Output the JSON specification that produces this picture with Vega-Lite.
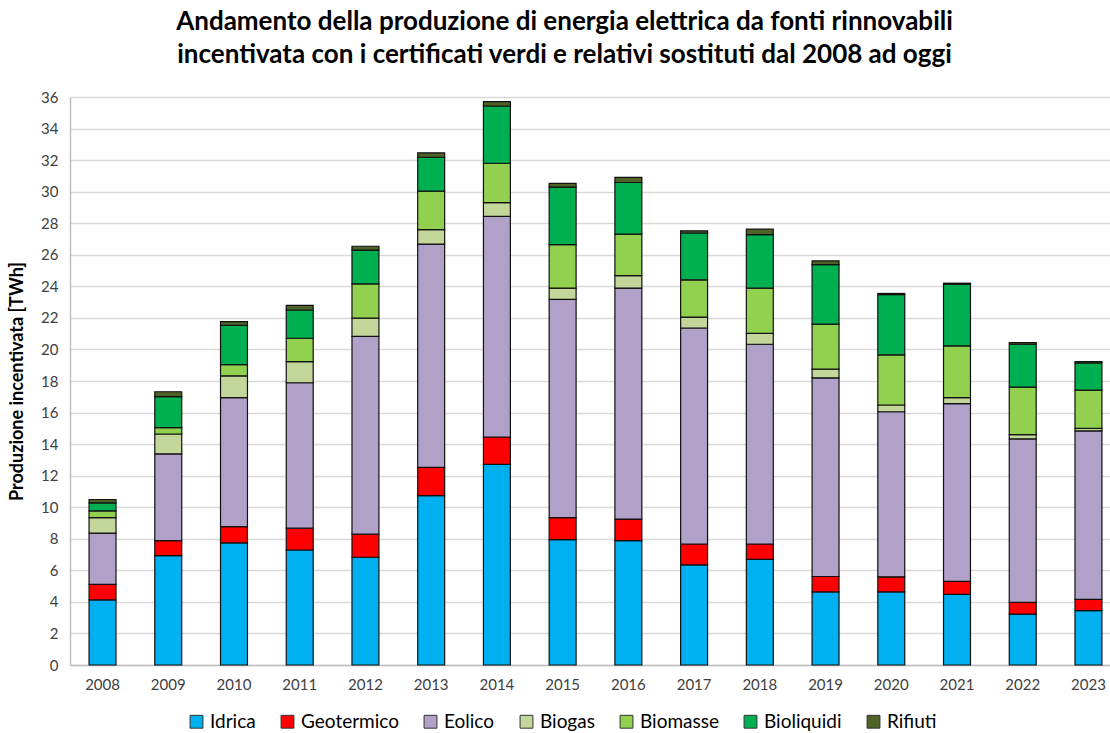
{
  "$schema": "https://vega.github.io/schema/vega-lite/v6.json",
  "width": 1051,
  "height": 568,
  "autosize": {"type": "none"},
  "padding": {"left": 70, "top": 97, "right": 0, "bottom": 68},
  "background": "white",
  "title": {
    "text": ["Andamento della produzione di energia elettrica da fonti rinnovabili", "incentivata con i certificati verdi e relativi sostituti dal 2008 ad oggi"],
    "font": "Lato",
    "fontSize": 26,
    "fontWeight": "bold",
    "color": "#000000",
    "anchor": "middle",
    "dx": -31,
    "offset": 22,
    "lineHeight": 33
  },
  "data": {
    "values": [
      {"year": "2008", "source": "Idrica", "ord": 1, "value": 4.13},
      {"year": "2008", "source": "Geotermico", "ord": 2, "value": 0.98},
      {"year": "2008", "source": "Eolico", "ord": 3, "value": 3.25},
      {"year": "2008", "source": "Biogas", "ord": 4, "value": 0.98},
      {"year": "2008", "source": "Biomasse", "ord": 5, "value": 0.43},
      {"year": "2008", "source": "Bioliquidi", "ord": 6, "value": 0.5},
      {"year": "2008", "source": "Rifiuti", "ord": 7, "value": 0.22},
      {"year": "2009", "source": "Idrica", "ord": 1, "value": 6.93},
      {"year": "2009", "source": "Geotermico", "ord": 2, "value": 0.95},
      {"year": "2009", "source": "Eolico", "ord": 3, "value": 5.5},
      {"year": "2009", "source": "Biogas", "ord": 4, "value": 1.26},
      {"year": "2009", "source": "Biomasse", "ord": 5, "value": 0.41},
      {"year": "2009", "source": "Bioliquidi", "ord": 6, "value": 1.96},
      {"year": "2009", "source": "Rifiuti", "ord": 7, "value": 0.31},
      {"year": "2010", "source": "Idrica", "ord": 1, "value": 7.74},
      {"year": "2010", "source": "Geotermico", "ord": 2, "value": 1.03},
      {"year": "2010", "source": "Eolico", "ord": 3, "value": 8.17},
      {"year": "2010", "source": "Biogas", "ord": 4, "value": 1.38},
      {"year": "2010", "source": "Biomasse", "ord": 5, "value": 0.72},
      {"year": "2010", "source": "Bioliquidi", "ord": 6, "value": 2.48},
      {"year": "2010", "source": "Rifiuti", "ord": 7, "value": 0.24},
      {"year": "2011", "source": "Idrica", "ord": 1, "value": 7.29},
      {"year": "2011", "source": "Geotermico", "ord": 2, "value": 1.38},
      {"year": "2011", "source": "Eolico", "ord": 3, "value": 9.22},
      {"year": "2011", "source": "Biogas", "ord": 4, "value": 1.34},
      {"year": "2011", "source": "Biomasse", "ord": 5, "value": 1.48},
      {"year": "2011", "source": "Bioliquidi", "ord": 6, "value": 1.79},
      {"year": "2011", "source": "Rifiuti", "ord": 7, "value": 0.29},
      {"year": "2012", "source": "Idrica", "ord": 1, "value": 6.83},
      {"year": "2012", "source": "Geotermico", "ord": 2, "value": 1.46},
      {"year": "2012", "source": "Eolico", "ord": 3, "value": 12.54},
      {"year": "2012", "source": "Biogas", "ord": 4, "value": 1.15},
      {"year": "2012", "source": "Biomasse", "ord": 5, "value": 2.17},
      {"year": "2012", "source": "Bioliquidi", "ord": 6, "value": 2.15},
      {"year": "2012", "source": "Rifiuti", "ord": 7, "value": 0.24},
      {"year": "2013", "source": "Idrica", "ord": 1, "value": 10.73},
      {"year": "2013", "source": "Geotermico", "ord": 2, "value": 1.79},
      {"year": "2013", "source": "Eolico", "ord": 3, "value": 14.16},
      {"year": "2013", "source": "Biogas", "ord": 4, "value": 0.91},
      {"year": "2013", "source": "Biomasse", "ord": 5, "value": 2.44},
      {"year": "2013", "source": "Bioliquidi", "ord": 6, "value": 2.15},
      {"year": "2013", "source": "Rifiuti", "ord": 7, "value": 0.28},
      {"year": "2014", "source": "Idrica", "ord": 1, "value": 12.71},
      {"year": "2014", "source": "Geotermico", "ord": 2, "value": 1.74},
      {"year": "2014", "source": "Eolico", "ord": 3, "value": 13.98},
      {"year": "2014", "source": "Biogas", "ord": 4, "value": 0.88},
      {"year": "2014", "source": "Biomasse", "ord": 5, "value": 2.49},
      {"year": "2014", "source": "Bioliquidi", "ord": 6, "value": 3.63},
      {"year": "2014", "source": "Rifiuti", "ord": 7, "value": 0.28},
      {"year": "2015", "source": "Idrica", "ord": 1, "value": 7.95},
      {"year": "2015", "source": "Geotermico", "ord": 2, "value": 1.39},
      {"year": "2015", "source": "Eolico", "ord": 3, "value": 13.83},
      {"year": "2015", "source": "Biogas", "ord": 4, "value": 0.72},
      {"year": "2015", "source": "Biomasse", "ord": 5, "value": 2.75},
      {"year": "2015", "source": "Bioliquidi", "ord": 6, "value": 3.65},
      {"year": "2015", "source": "Rifiuti", "ord": 7, "value": 0.24},
      {"year": "2016", "source": "Idrica", "ord": 1, "value": 7.88},
      {"year": "2016", "source": "Geotermico", "ord": 2, "value": 1.37},
      {"year": "2016", "source": "Eolico", "ord": 3, "value": 14.64},
      {"year": "2016", "source": "Biogas", "ord": 4, "value": 0.79},
      {"year": "2016", "source": "Biomasse", "ord": 5, "value": 2.63},
      {"year": "2016", "source": "Bioliquidi", "ord": 6, "value": 3.27},
      {"year": "2016", "source": "Rifiuti", "ord": 7, "value": 0.33},
      {"year": "2017", "source": "Idrica", "ord": 1, "value": 6.35},
      {"year": "2017", "source": "Geotermico", "ord": 2, "value": 1.32},
      {"year": "2017", "source": "Eolico", "ord": 3, "value": 13.69},
      {"year": "2017", "source": "Biogas", "ord": 4, "value": 0.69},
      {"year": "2017", "source": "Biomasse", "ord": 5, "value": 2.36},
      {"year": "2017", "source": "Bioliquidi", "ord": 6, "value": 2.97},
      {"year": "2017", "source": "Rifiuti", "ord": 7, "value": 0.14},
      {"year": "2018", "source": "Idrica", "ord": 1, "value": 6.69},
      {"year": "2018", "source": "Geotermico", "ord": 2, "value": 0.98},
      {"year": "2018", "source": "Eolico", "ord": 3, "value": 12.66},
      {"year": "2018", "source": "Biogas", "ord": 4, "value": 0.69},
      {"year": "2018", "source": "Biomasse", "ord": 5, "value": 2.87},
      {"year": "2018", "source": "Bioliquidi", "ord": 6, "value": 3.39},
      {"year": "2018", "source": "Rifiuti", "ord": 7, "value": 0.34},
      {"year": "2019", "source": "Idrica", "ord": 1, "value": 4.63},
      {"year": "2019", "source": "Geotermico", "ord": 2, "value": 0.98},
      {"year": "2019", "source": "Eolico", "ord": 3, "value": 12.59},
      {"year": "2019", "source": "Biogas", "ord": 4, "value": 0.55},
      {"year": "2019", "source": "Biomasse", "ord": 5, "value": 2.85},
      {"year": "2019", "source": "Bioliquidi", "ord": 6, "value": 3.77},
      {"year": "2019", "source": "Rifiuti", "ord": 7, "value": 0.24},
      {"year": "2020", "source": "Idrica", "ord": 1, "value": 4.63},
      {"year": "2020", "source": "Geotermico", "ord": 2, "value": 0.96},
      {"year": "2020", "source": "Eolico", "ord": 3, "value": 10.46},
      {"year": "2020", "source": "Biogas", "ord": 4, "value": 0.43},
      {"year": "2020", "source": "Biomasse", "ord": 5, "value": 3.18},
      {"year": "2020", "source": "Bioliquidi", "ord": 6, "value": 3.82},
      {"year": "2020", "source": "Rifiuti", "ord": 7, "value": 0.07},
      {"year": "2021", "source": "Idrica", "ord": 1, "value": 4.47},
      {"year": "2021", "source": "Geotermico", "ord": 2, "value": 0.83},
      {"year": "2021", "source": "Eolico", "ord": 3, "value": 11.26},
      {"year": "2021", "source": "Biogas", "ord": 4, "value": 0.38},
      {"year": "2021", "source": "Biomasse", "ord": 5, "value": 3.29},
      {"year": "2021", "source": "Bioliquidi", "ord": 6, "value": 3.9},
      {"year": "2021", "source": "Rifiuti", "ord": 7, "value": 0.07},
      {"year": "2022", "source": "Idrica", "ord": 1, "value": 3.23},
      {"year": "2022", "source": "Geotermico", "ord": 2, "value": 0.74},
      {"year": "2022", "source": "Eolico", "ord": 3, "value": 10.36},
      {"year": "2022", "source": "Biogas", "ord": 4, "value": 0.27},
      {"year": "2022", "source": "Biomasse", "ord": 5, "value": 3.01},
      {"year": "2022", "source": "Bioliquidi", "ord": 6, "value": 2.72},
      {"year": "2022", "source": "Rifiuti", "ord": 7, "value": 0.1},
      {"year": "2023", "source": "Idrica", "ord": 1, "value": 3.44},
      {"year": "2023", "source": "Geotermico", "ord": 2, "value": 0.72},
      {"year": "2023", "source": "Eolico", "ord": 3, "value": 10.68},
      {"year": "2023", "source": "Biogas", "ord": 4, "value": 0.16},
      {"year": "2023", "source": "Biomasse", "ord": 5, "value": 2.42},
      {"year": "2023", "source": "Bioliquidi", "ord": 6, "value": 1.72},
      {"year": "2023", "source": "Rifiuti", "ord": 7, "value": 0.09}
    ]
  },
  "mark": {"type": "bar", "stroke": "#111111", "strokeWidth": 1.2},
  "encoding": {
    "x": {
      "field": "year",
      "type": "ordinal",
      "scale": {"paddingInner": 0.59, "paddingOuter": 0.29},
      "axis": {
        "title": null,
        "labelAngle": 0,
        "labelFont": "Lato",
        "labelFontSize": 15,
        "labelColor": "#404040",
        "labelPadding": 12,
        "ticks": false,
        "domainColor": "#bfbfbf",
        "domainWidth": 1.5,
        "grid": false
      }
    },
    "y": {
      "field": "value",
      "type": "quantitative",
      "aggregate": "sum",
      "stack": "zero",
      "scale": {"domain": [0, 36], "nice": false},
      "axis": {
        "title": "Produzione incentivata [TWh]",
        "titleFont": "Lato",
        "titleFontSize": 18,
        "titleFontWeight": "bold",
        "titleColor": "#000000",
        "titlePadding": 14,
        "values": [0, 2, 4, 6, 8, 10, 12, 14, 16, 18, 20, 22, 24, 26, 28, 30, 32, 34, 36],
        "labelFont": "Lato",
        "labelFontSize": 15,
        "labelColor": "#404040",
        "labelPadding": 12,
        "ticks": false,
        "domainColor": "#bfbfbf",
        "domainWidth": 1.5,
        "grid": true,
        "gridColor": "#d9d9d9",
        "gridWidth": 1.3
      }
    },
    "color": {
      "field": "source",
      "type": "nominal",
      "scale": {
        "domain": ["Idrica", "Geotermico", "Eolico", "Biogas", "Biomasse", "Bioliquidi", "Rifiuti"],
        "range": ["#00B0F0", "#FF0000", "#B1A0C7", "#C4D79B", "#92D050", "#00B050", "#4F6228"]
      },
      "legend": {
        "title": null,
        "orient": "none",
        "direction": "horizontal",
        "columns": 7,
        "legendX": 117,
        "legendY": 615,
        "symbolType": "square",
        "symbolSize": 165,
        "symbolStrokeColor": "#333333",
        "symbolStrokeWidth": 1,
        "labelFont": "Lato",
        "labelFontSize": 19,
        "labelColor": "#000000",
        "columnPadding": 22,
        "labelOffset": 4
      }
    },
    "order": {"field": "ord", "type": "quantitative", "sort": "ascending"}
  },
  "config": {
    "view": {"stroke": null}
  }
}
